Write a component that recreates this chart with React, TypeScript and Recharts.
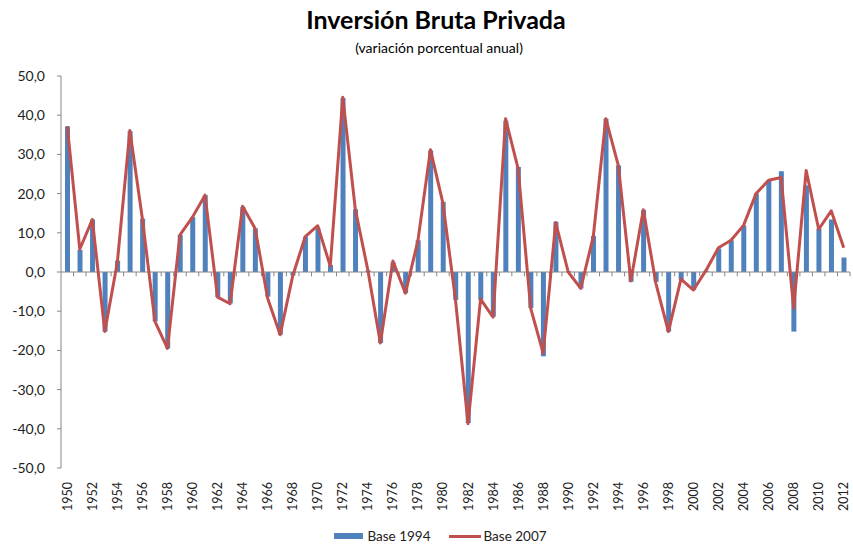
import React from 'react';
import { ComposedChart, Bar, Line, XAxis, YAxis, ReferenceLine, Legend } from 'recharts';

const years = [
  1950, 1951, 1952, 1953, 1954, 1955, 1956, 1957, 1958, 1959,
  1960, 1961, 1962, 1963, 1964, 1965, 1966, 1967, 1968, 1969,
  1970, 1971, 1972, 1973, 1974, 1975, 1976, 1977, 1978, 1979,
  1980, 1981, 1982, 1983, 1984, 1985, 1986, 1987, 1988, 1989,
  1990, 1991, 1992, 1993, 1994, 1995, 1996, 1997, 1998, 1999,
  2000, 2001, 2002, 2003, 2004, 2005, 2006, 2007, 2008, 2009,
  2010, 2011, 2012,
];

const base1994 = [
  37.1, 5.6, 13.4, -15.2, 2.9, 35.9, 13.6, -12.6, -19.5, 9.5,
  14.0, 19.6, -6.4, -8.0, 16.6, 11.1, -6.3, -16.0, -0.9, 9.0,
  11.1, 1.8, 44.4, 16.0, 0.4, -18.1, 2.5, -5.4, 8.1, 31.0,
  17.9, -7.1, -38.5, -7.1, -11.4, 38.6, 26.8, -9.2, -21.5, 12.8,
  0.2, -4.2, 9.2, 39.1, 27.2, -2.5, 15.8, -2.5, -15.2, -2.0,
  -4.6, 0.3, 6.0, 8.1, 11.9, 20.0, 23.4, 25.7, -15.2, 22.1,
  11.1, 13.4, 3.7,
];

const base2007 = [
  37.2, 5.8, 13.4, -15.2, 2.5, 36.1, 13.5, -12.6, -19.5, 9.5,
  14.0, 19.6, -6.4, -8.1, 16.8, 11.1, -6.7, -16.0, -1.0, 9.0,
  11.8, 1.5, 44.6, 16.0, 0.5, -18.1, 2.8, -5.4, 8.0, 31.2,
  17.5, -7.1, -38.7, -6.9, -11.5, 39.1, 26.4, -9.2, -20.7, 12.6,
  0.0, -4.2, 9.0, 39.1, 27.2, -2.3, 15.9, -2.9, -15.2, -1.8,
  -4.6, 0.4, 6.2, 8.1, 11.9, 20.0, 23.4, 24.1, -9.2, 25.9,
  10.9, 15.6, 6.2,
];

const yTicks = [-50, -40, -30, -20, -10, 0, 10, 20, 30, 40, 50];
const xLabelYears = years.filter((y) => y % 2 === 0);

const seriesNames = ['Base 1994', 'Base 2007'];
const title = 'Inversión Bruta Privada';
const subtitle = '(variación porcentual anual)';

const data = years.map((year, i) => ({ year, b1994: base1994[i], b2007: base2007[i] }));
const boundaries = years.map((y) => y + 0.5);

const FONT = 'Lato, "Open Sans", sans-serif';
const BLUE = '#4F81BD';
const RED = '#C0504D';
const AXIS = '#868686';

const fmt = (v: number) => v.toFixed(1).replace('.', ',');

const XTick = (props: any) => {
  const { x, y, payload } = props;
  return (
    <text
      x={x}
      y={y}
      dy={4.5}
      transform={`rotate(-90, ${x}, ${y})`}
      textAnchor="end"
      fontSize={12.5}
      fontFamily={FONT}
      fill="#222"
    >
      {payload.value}
    </text>
  );
};

const LegendContent = () => (
  <div
    style={{
      height: 30,
      display: 'flex',
      justifyContent: 'center',
      alignItems: 'center',
      paddingLeft: 31,
      paddingTop: 14,
      boxSizing: 'border-box',
      fontFamily: FONT,
      fontSize: 13.5,
      color: '#222',
    }}
  >
    <span style={{ display: 'inline-block', width: 29, height: 6, background: BLUE, marginRight: 4 }} />
    <span style={{ marginRight: 18 }}>{seriesNames[0]}</span>
    <span style={{ display: 'inline-block', width: 32, height: 3, background: RED, marginRight: 3 }} />
    <span>{seriesNames[1]}</span>
  </div>
);

export default function App() {
  return (
    <div style={{ position: 'absolute', left: 0, top: 0, width: 853, height: 544, background: '#fff' }}>
      <svg width={853} height={60} style={{ position: 'absolute', left: 0, top: 0 }}>
        <text x={436} y={29} textAnchor="middle" fontFamily={FONT} fontWeight={700} fontSize={25} fill="#000">
          {title}
        </text>
        <text x={439} y={53} textAnchor="middle" fontFamily={FONT} fontSize={14} fill="#000">
          {subtitle}
        </text>
      </svg>
      <ComposedChart
        width={853}
        height={544}
        data={data}
        margin={{ top: 76, right: 3, left: 0, bottom: 0 }}
      >
        <XAxis
          dataKey="year"
          type="number"
          domain={[1949.5, 2012.5]}
          ticks={xLabelYears}
          interval={0}
          axisLine={false}
          tickLine={false}
          tickMargin={8}
          height={46}
          tick={<XTick />}
        />
        <YAxis
          type="number"
          domain={[-50, 50]}
          ticks={yTicks}
          interval={0}
          width={61}
          tickFormatter={fmt}
          axisLine={{ stroke: AXIS }}
          tickLine={{ stroke: AXIS }}
          tickSize={4}
          tickMargin={12}
          tick={{ fontSize: 14, fontFamily: FONT, fill: '#222' }}
        />
        <ReferenceLine y={0} stroke={AXIS} strokeWidth={1} />
        {boundaries.map((b) => (
          <ReferenceLine
            key={b}
            segment={[{ x: b, y: 0 }, { x: b, y: -1.1 }]}
            stroke={AXIS}
            strokeWidth={1}
          />
        ))}
        <Bar dataKey="b1994" name={seriesNames[0]} fill={BLUE} barSize={5} isAnimationActive={false} />
        <Line
          dataKey="b2007"
          name={seriesNames[1]}
          type="linear"
          stroke={RED}
          strokeWidth={3}
          strokeLinejoin="round"
          dot={false}
          activeDot={false}
          isAnimationActive={false}
        />
        <Legend verticalAlign="bottom" height={30} content={<LegendContent />} />
      </ComposedChart>
    </div>
  );
}
